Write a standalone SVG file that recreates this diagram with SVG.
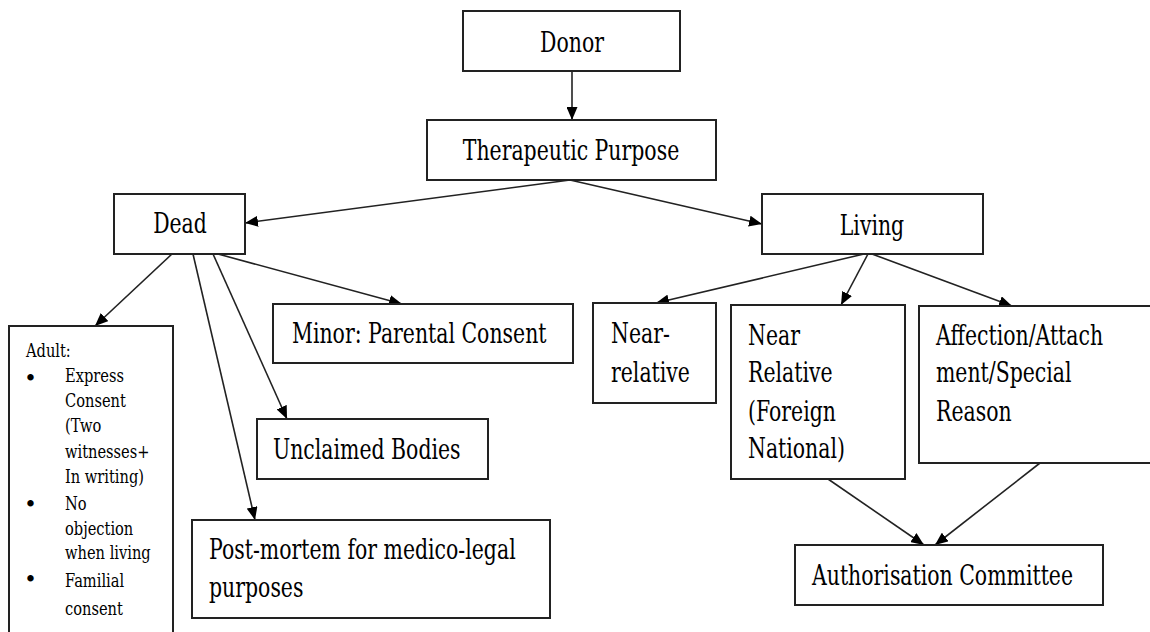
<svg xmlns="http://www.w3.org/2000/svg" width="1150" height="632" viewBox="0 0 1150 632" font-family="DejaVu Serif, serif">
<defs>
<style>
.box{fill:#fff;stroke:#222;stroke-width:2}
.t{font-size:28px;fill:#000}
.s{font-size:19px;fill:#000}
.b{font-size:22px;fill:#000}
.c{text-anchor:middle}
.ln{stroke:#222;stroke-width:1.6;fill:none;marker-end:url(#ah)}
</style>
<marker id="ah" markerUnits="userSpaceOnUse" markerWidth="13" markerHeight="11" refX="13" refY="5.5" orient="auto">
<path d="M0,0 L13,5.5 L0,11 z" fill="#000"/>
</marker>
</defs>
<rect width="1150" height="632" fill="#fff"/>
<g id="connectors">
<line class="ln" x1="572" y1="71" x2="572" y2="120"/>
<line class="ln" x1="570" y1="180" x2="245" y2="223"/>
<line class="ln" x1="570" y1="180" x2="762" y2="224"/>
<line class="ln" x1="172" y1="254" x2="95" y2="326"/>
<line class="ln" x1="193" y1="254" x2="255" y2="520"/>
<line class="ln" x1="213" y1="254" x2="287" y2="419"/>
<line class="ln" x1="218" y1="254" x2="402" y2="304"/>
<line class="ln" x1="864" y1="254" x2="656" y2="303"/>
<line class="ln" x1="868" y1="254" x2="841" y2="305"/>
<line class="ln" x1="872" y1="254" x2="1012" y2="306"/>
<line class="ln" x1="828" y1="479" x2="924" y2="545"/>
<line class="ln" x1="1040" y1="463" x2="935" y2="545"/>
</g>
<g id="donor">
<rect class="box" x="463" y="11" width="217" height="60"/>
<text class="t c" transform="translate(572 52) scale(0.73 1)">Donor</text>
</g>
<g id="therapeutic">
<rect class="box" x="427" y="120" width="289" height="60"/>
<text class="t c" transform="translate(571 160) scale(0.73 1)">Therapeutic Purpose</text>
</g>
<g id="dead">
<rect class="box" x="114" y="194" width="131" height="60"/>
<text class="t c" transform="translate(180 233) scale(0.73 1)">Dead</text>
</g>
<g id="living">
<rect class="box" x="762" y="194" width="221" height="60"/>
<text class="t c" transform="translate(872 235) scale(0.73 1)">Living</text>
</g>
<g id="adult">
<rect class="box" x="9" y="326" width="164" height="320"/>
<text class="s" transform="translate(26 357) scale(0.77 1)">Adult:</text>
<text class="b" x="24" y="386">•</text>
<text class="s" transform="translate(65 382) scale(0.77 1)">Express</text>
<text class="s" transform="translate(65 407) scale(0.77 1)">Consent</text>
<text class="s" transform="translate(65 432) scale(0.77 1)">(Two</text>
<text class="s" transform="translate(65 458) scale(0.77 1)">witnesses+</text>
<text class="s" transform="translate(65 483) scale(0.77 1)">In writing)</text>
<text class="b" x="24" y="512">•</text>
<text class="s" transform="translate(65 510) scale(0.77 1)">No</text>
<text class="s" transform="translate(65 535) scale(0.77 1)">objection</text>
<text class="s" transform="translate(65 559) scale(0.77 1)">when living</text>
<text class="b" x="24" y="587">•</text>
<text class="s" transform="translate(65 587) scale(0.77 1)">Familial</text>
<text class="s" transform="translate(65 615) scale(0.77 1)">consent</text>
</g>
<g id="minor">
<rect class="box" x="273" y="304" width="300" height="59"/>
<text class="t" transform="translate(292 343) scale(0.73 1)">Minor: Parental Consent</text>
</g>
<g id="unclaimed">
<rect class="box" x="257" y="419" width="231" height="60"/>
<text class="t" transform="translate(273 459) scale(0.73 1)">Unclaimed Bodies</text>
</g>
<g id="postmortem">
<rect class="box" x="192" y="520" width="358" height="98"/>
<text class="t" transform="translate(209 559) scale(0.73 1)">Post-mortem for medico-legal</text>
<text class="t" transform="translate(209 597) scale(0.73 1)">purposes</text>
</g>
<g id="near-relative">
<rect class="box" x="593" y="303" width="123" height="100"/>
<text class="t" transform="translate(611 343) scale(0.73 1)">Near-</text>
<text class="t" transform="translate(611 382) scale(0.73 1)">relative</text>
</g>
<g id="near-relative-foreign">
<rect class="box" x="731" y="305" width="174" height="174"/>
<text class="t" transform="translate(748 345) scale(0.73 1)">Near</text>
<text class="t" transform="translate(748 382) scale(0.73 1)">Relative</text>
<text class="t" transform="translate(748 421) scale(0.73 1)">(Foreign</text>
<text class="t" transform="translate(748 458) scale(0.73 1)">National)</text>
</g>
<g id="affection">
<rect class="box" x="919" y="306" width="240" height="157"/>
<text class="t" transform="translate(936 345) scale(0.73 1)">Affection/Attach</text>
<text class="t" transform="translate(936 382) scale(0.73 1)">ment/Special</text>
<text class="t" transform="translate(936 421) scale(0.73 1)">Reason</text>
</g>
<g id="authorisation">
<rect class="box" x="795" y="545" width="308" height="60"/>
<text class="t" transform="translate(812 585) scale(0.73 1)">Authorisation Committee</text>
</g>
</svg>
